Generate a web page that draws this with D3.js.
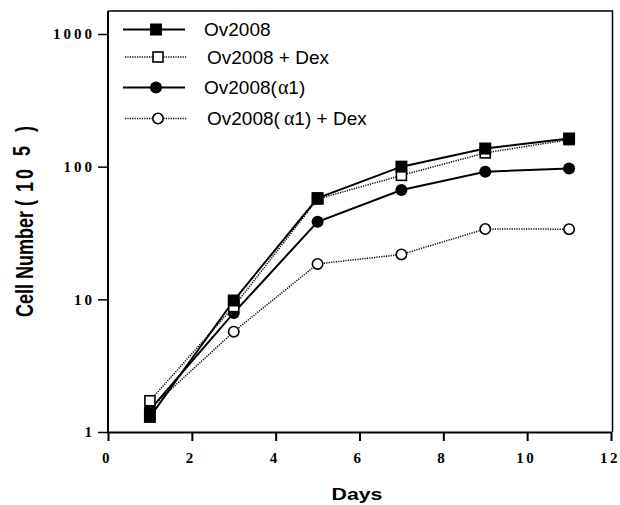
<!DOCTYPE html>
<html>
<head>
<meta charset="utf-8">
<script src="https://cdn.jsdelivr.net/npm/d3@7"></script>
<style>
  html, body { margin: 0; padding: 0; background: #fff; }
  svg { display: block; }
</style>
</head>
<body>
<div id="chart"></div>
<script>
// data (cell number in units of 10^5)
var days        = [1, 3, 5, 7, 9, 11]
var ov2008      = [1.3, 9.8, 58, 100, 137, 163]
var ov2008Dex   = [1.72, 8.8, 57, 86, 127, 160]
var ov2008a1    = [1.47, 7.9, 38.4, 66.6, 91.5, 97]
var ov2008a1Dex = [1.5, 5.7, 18.5, 21.8, 33.9, 33.8]

var seriesNames = ["Ov2008", "Ov2008 + Dex", "Ov2008(\u03b11)", "Ov2008(\u03b11) + Dex"]
var xTicks = [0, 2, 4, 6, 8, 10, 12]
var yTicks = [1, 10, 100, 1000]

// global layout (note: "top" is taken by window.top, so plot* names)
var svgWidth  = 620
var svgHeight = 505
var plotLeft = 108, plotRight = 611, plotTop = 11, plotBottom = 432

var series = [
   {name: seriesNames[0], values: ov2008,      marker: "square", filled: true,  dotted: false},
   {name: seriesNames[1], values: ov2008Dex,   marker: "square", filled: false, dotted: true},
   {name: seriesNames[2], values: ov2008a1,    marker: "circle", filled: true,  dotted: false},
   {name: seriesNames[3], values: ov2008a1Dex, marker: "circle", filled: false, dotted: true}
]

var x = d3.scaleLinear().domain([0, 12]).range([plotLeft, plotRight])
var y = d3.scaleLog().domain([1, 1000]).range([plotBottom, 34])

var svg = d3.select("#chart")
.append("svg")
.attr("width", svgWidth)
.attr("height", svgHeight)

// frame (top and right)
svg.append("path")
.attr("d", "M" + plotLeft + "," + plotTop + "H" + (plotRight + 1.5) + "V" + plotBottom)
.attr("fill", "none")
.attr("stroke", "black")
.attr("stroke-width", 1.5)

// x axis
var xAxis = svg.append("g")
.attr("transform", "translate(0," + plotBottom + ")")
.call(d3.axisBottom(x).tickValues(xTicks).tickSize(9).tickSizeOuter(0).tickPadding(11))
xAxis.select(".domain").attr("stroke-width", 2)
xAxis.selectAll(".tick line").attr("stroke-width", 2)
xAxis.selectAll(".tick text")
.attr("dx", -1.5)
.attr("font-family", "'Liberation Serif', serif")
.attr("font-weight", "bold")
.attr("font-size", 15)
.attr("letter-spacing", 2.5)
.attr("fill", "black")

// y axis
var yAxis = svg.append("g")
.attr("transform", "translate(" + plotLeft + ",0)")
.call(d3.axisLeft(y).tickValues(yTicks).tickFormat(d3.format("d")).tickSize(10).tickSizeOuter(0).tickPadding(3))
yAxis.select(".domain").attr("d", "M0," + plotBottom + "V" + plotTop).attr("stroke-width", 2)
yAxis.selectAll(".tick line").attr("stroke-width", 1.5)
yAxis.selectAll(".tick text")
.attr("font-family", "'Liberation Serif', serif")
.attr("font-weight", "bold")
.attr("font-size", 15)
.attr("letter-spacing", 3)
.attr("fill", "black")

// axis titles
svg.append("text")
.attr("transform", "translate(357,500) scale(1.25,1)")
.attr("text-anchor", "middle")
.attr("font-family", "'Liberation Sans', Arial, sans-serif")
.attr("font-weight", "bold")
.attr("font-size", 17)
.text("Days")

var yTitle = svg.append("text")
.attr("transform", "translate(33,218) scale(1.3,1) rotate(-90)")
.attr("font-family", "'Liberation Sans', Arial, sans-serif")
.attr("font-weight", "bold")
.attr("font-size", 18)
yTitle.append("tspan").attr("x", -99).text("Cell Number")
yTitle.append("tspan").attr("x", 12).text("(")
yTitle.append("tspan").attr("x", 26).attr("letter-spacing", 3).text("10")
yTitle.append("tspan").attr("x", 62).attr("dy", -2).text("5")
yTitle.append("tspan").attr("x", 86).attr("dy", 2).text(")")

// draw a marker of the given kind
function drawMarker(g, s, cx, cy) {
   if (s.marker === "square") {
      var side = s.filled ? 12 : 10
      g.append("rect")
      .attr("x", cx - side / 2)
      .attr("y", cy - side / 2)
      .attr("width", side)
      .attr("height", side)
      .attr("fill", s.filled ? "black" : "white")
      .attr("stroke", "black")
      .attr("stroke-width", s.filled ? 0 : 1.6)
   } else {
      g.append("circle")
      .attr("cx", cx)
      .attr("cy", cy)
      .attr("r", s.filled ? 6 : 5.2)
      .attr("fill", s.filled ? "black" : "white")
      .attr("stroke", "black")
      .attr("stroke-width", s.filled ? 0 : 1.6)
   }
}

function styleLine(sel, s) {
   sel.attr("fill", "none")
   .attr("stroke", "black")
   .attr("stroke-width", s.dotted ? 1.5 : 2)
   .attr("stroke-dasharray", s.dotted ? "1.2,1.2" : null)
}

var line = d3.line()
.x(function(d){ return x(d[0]) })
.y(function(d){ return y(d[1]) })

// lines and markers, drawn so Ov2008 sits on top
series.slice().reverse().forEach(function(s){
   var pts = days.map(function(d, i){ return [d, s.values[i]] })
   svg.append("path")
   .attr("d", line(pts))
   .call(styleLine, s)
})
series.slice().reverse().forEach(function(s){
   var g = svg.append("g")
   days.forEach(function(d, i){
      drawMarker(g, s, x(d), y(s.values[i]))
   })
})

// legend
var legendRows = [29.5, 57, 87.5, 118.5]
series.forEach(function(s, i){
   var ly = legendRows[i]
   var g = svg.append("g")
   var x0 = s.dotted ? 125 : 123
   g.append("line")
   .attr("x1", x0).attr("x2", x0 + 62)
   .attr("y1", ly).attr("y2", ly)
   .call(styleLine, s)
   drawMarker(g, s, x0 + 33, ly)

   var t = g.append("text")
   .attr("x", s.dotted ? 207 : 204)
   .attr("y", ly + 6.5)
   .attr("font-family", "'Liberation Sans', Arial, sans-serif")
   .attr("font-size", 19)
   if (s.marker === "circle") {
      t.append("tspan").text("Ov2008(")
      t.append("tspan")
      .attr("dx", s.dotted ? 4 : 1)
      .attr("font-family", "'Liberation Serif', serif")
      .attr("font-size", 20)
      .text("\u03b1")
      t.append("tspan").text(s.dotted ? "1) + Dex" : "1)")
   } else {
      t.text(s.name)
   }
})
</script>
</body>
</html>
